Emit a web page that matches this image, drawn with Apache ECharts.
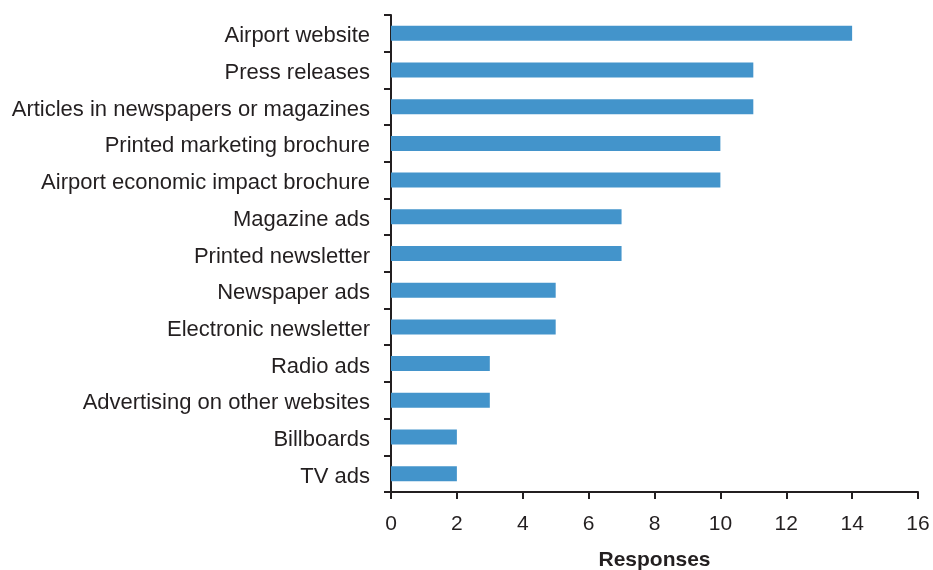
<!DOCTYPE html>
<html><head><meta charset="utf-8">
<script src="https://cdn.jsdelivr.net/npm/echarts@6/dist/echarts.min.js"></script>
<style>html,body{margin:0;padding:0;background:#fff}#c{width:933px;height:570px}</style>
</head><body><div id="c"></div>
<script>
const categories = ["Airport website","Press releases","Articles in newspapers or magazines","Printed marketing brochure","Airport economic impact brochure","Magazine ads","Printed newsletter","Newspaper ads","Electronic newsletter","Radio ads","Advertising on other websites","Billboards","TV ads"];
const responses = [14,11,11,10,10,7,7,5,5,3,3,2,2];
const xTicks = {min:0,max:16,interval:2};
const axisColor = '#231f20';
const chart = echarts.init(document.getElementById('c'));
chart.setOption({
  animation:false,
  grid:{left:391,right:15,top:15,bottom:78,containLabel:false,outerBoundsMode:'none'},
  xAxis:{type:'value',min:xTicks.min,max:xTicks.max,interval:xTicks.interval,
    name:'Responses',nameLocation:'middle',nameGap:58,
    nameTextStyle:{fontFamily:'Liberation Sans',fontSize:21,fontWeight:'bold',color:axisColor},
    axisLine:{show:true,lineStyle:{color:axisColor,width:2}},
    axisTick:{show:true,length:7,lineStyle:{color:axisColor,width:2}},
    axisLabel:{margin:22,fontFamily:'Liberation Sans',fontSize:21,color:axisColor},
    splitLine:{show:false}},
  yAxis:{type:'category',inverse:true,data:categories,
    axisLine:{show:true,lineStyle:{color:axisColor,width:2}},
    axisTick:{show:true,length:7,lineStyle:{color:axisColor,width:2}},
    axisLabel:{margin:21,fontFamily:'Liberation Sans',fontSize:22,color:axisColor,verticalAlign:'top',lineHeight:22,padding:[-8,0,0,0]}},
  series:[{type:'bar',data:responses,barWidth:15,itemStyle:{color:'#4394cb'}}]
});
</script></body></html>
